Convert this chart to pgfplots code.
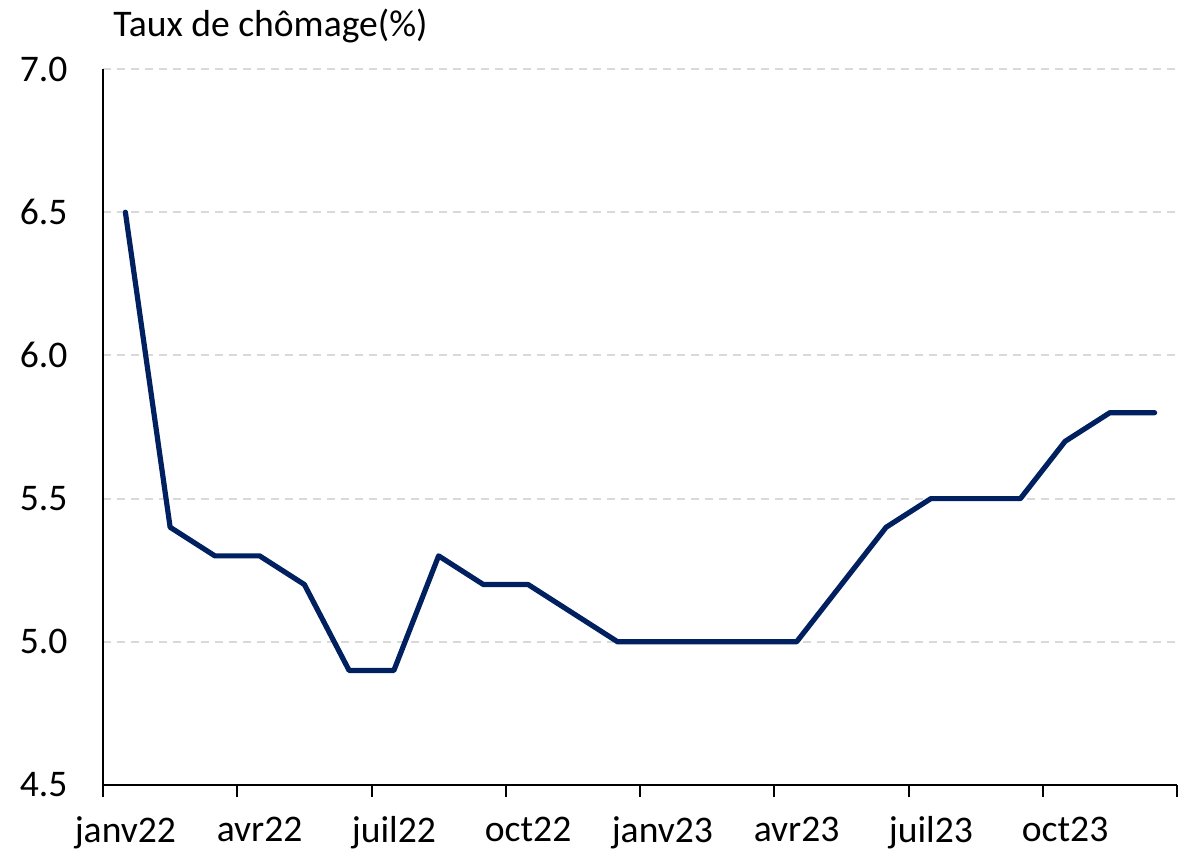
\documentclass[border=0pt]{standalone}
\usepackage{fontspec}
\setmainfont{Carlito}
\usepackage{pgfplots}
\pgfplotsset{compat=1.18}
\definecolor{navy}{RGB}{0,32,96}
\definecolor{gridgray}{RGB}{217,217,217}
\begin{document}
\begin{tikzpicture}
\path[use as bounding box] (-51.5pt,-33.5pt) rectangle (542.5pt,392.5pt);
\begin{axis}[
  scale only axis,
  width=537pt, height=358pt,
  xmin=-0.5, xmax=23.5,
  ymin=4.5, ymax=7.0,
  axis x line=bottom, axis y line=left,
  axis line style={-, line width=1pt, black},
  xtick={0,3,...,21},
  xticklabels={janv22,avr22,juil22,oct22,janv23,avr23,juil23,oct23},
  minor xtick={-0.5,2.5,...,23.5},
  major x tick style={draw=none},
  minor x tick style={line width=1pt, black},
  minor tick length=6pt,
  tick align=outside,
  ytick={4.5,5.0,...,7.0},
  ytick style={draw=none},
  ymajorgrids,
  grid style={gridgray, line width=1pt, dash pattern=on 4pt off 3pt},
  tick label style={font=\fontsize{18.8}{22}\selectfont},
  /pgf/number format/assume math mode=true,
  yticklabel style={/pgf/number format/fixed, /pgf/number format/fixed zerofill, /pgf/number format/precision=1, xshift=-10pt},
  xticklabel style={yshift=-8pt},
]
\addplot[navy, line width=2.6pt, line join=round, line cap=round] coordinates {
(0,6.5) (1,5.4) (2,5.3) (3,5.3) (4,5.2) (5,4.9) (6,4.9) (7,5.3) (8,5.2) (9,5.2) (10,5.1) (11,5.0)
(12,5.0) (13,5.0) (14,5.0) (15,5.0) (16,5.2) (17,5.4) (18,5.5) (19,5.5) (20,5.5) (21,5.7) (22,5.8) (23,5.8)
};
\end{axis}
\node[anchor=base west, inner sep=0pt, font=\fontsize{18.8}{22}\selectfont] at (5pt,374pt) {Taux de chômage(\%)};
\end{tikzpicture}
\end{document}
